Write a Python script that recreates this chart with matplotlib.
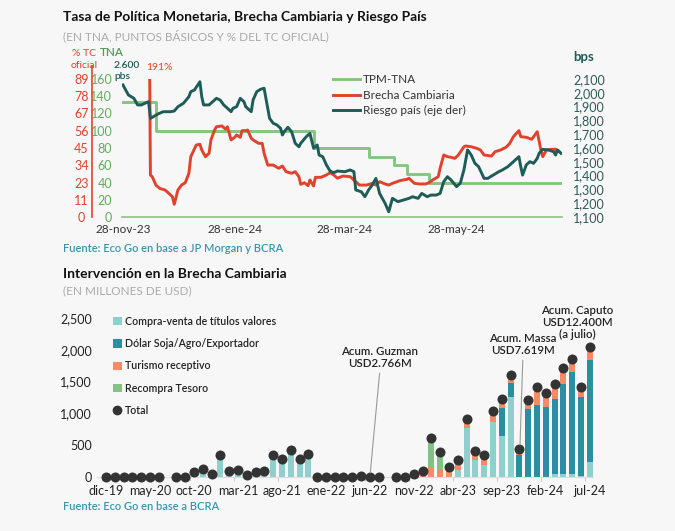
import numpy as np
import pandas as pd
import matplotlib
matplotlib.use("Agg")
from matplotlib import pyplot as plt
from matplotlib.lines import Line2D
from matplotlib.patches import Patch
from matplotlib.ticker import FixedLocator, FixedFormatter, FuncFormatter

plt.rcParams['font.family'] = ['Lato', 'DejaVu Sans']

nan = np.nan

# ---------------- panel 1: TPM, brecha, riesgo pais ----------------
tpm_fechas = ["2023-11-28", "2023-12-16", "2024-03-11", "2024-04-10", "2024-04-24",
              "2024-05-01", "2024-05-13", "2024-07-24"]
tpm_tna = [133, 100, 80, 70, 60, 50, 40, 40]

brecha_fechas = ["2023-12-12", "2023-12-13", "2023-12-14", "2023-12-16", "2023-12-18", "2023-12-21",
                 "2023-12-23", "2023-12-25", "2023-12-26", "2023-12-28", "2023-12-30", "2024-01-01",
                 "2024-01-03", "2024-01-04", "2024-01-07", "2024-01-09", "2024-01-10", "2024-01-12",
                 "2024-01-14", "2024-01-15", "2024-01-17", "2024-01-18", "2024-01-21", "2024-01-23",
                 "2024-01-24", "2024-01-26", "2024-01-28", "2024-01-29", "2024-01-31", "2024-02-01",
                 "2024-02-03", "2024-02-04", "2024-02-06", "2024-02-07", "2024-02-10", "2024-02-12",
                 "2024-02-13", "2024-02-15", "2024-02-18", "2024-02-21", "2024-02-23", "2024-02-25",
                 "2024-02-28", "2024-03-01", "2024-03-03", "2024-03-04", "2024-03-06", "2024-03-08",
                 "2024-03-09", "2024-03-11", "2024-03-12", "2024-03-15", "2024-03-18", "2024-03-20",
                 "2024-03-22", "2024-03-24", "2024-03-27", "2024-03-31", "2024-04-03", "2024-04-05",
                 "2024-04-09", "2024-04-12", "2024-04-14", "2024-04-16", "2024-04-19", "2024-04-21",
                 "2024-04-23", "2024-04-27", "2024-04-29", "2024-05-01", "2024-05-02", "2024-05-05",
                 "2024-05-08", "2024-05-11", "2024-05-13", "2024-05-15", "2024-05-18", "2024-05-19",
                 "2024-05-21", "2024-05-23", "2024-05-25", "2024-05-27", "2024-05-29", "2024-06-01",
                 "2024-06-02", "2024-06-05", "2024-06-08", "2024-06-10", "2024-06-12", "2024-06-16",
                 "2024-06-18", "2024-06-21", "2024-06-24", "2024-06-26", "2024-06-28", "2024-07-01",
                 "2024-07-02", "2024-07-05", "2024-07-08", "2024-07-11", "2024-07-13", "2024-07-14",
                 "2024-07-16", "2024-07-19", "2024-07-21", "2024-07-23"]
brecha_pct = [191, 27.1, 26, 20.6, 18.5, 17.4,
              15.3, 13.1, 8.2, 17.4, 20.6, 22.1,
              28.2, 38.9, 46.4, 46.9, 43.2, 38.9,
              41.1, 49.7, 56.1, 58.2, 58.7, 56.6,
              58.2, 49.7, 51.4, 52.9, 51.4, 55.7,
              55.7, 56.1, 50.8, 49.7, 47.5, 47.5,
              41.1, 33.5, 33.5, 31.4, 32.9, 29.2,
              28.2, 29.2, 26, 21.1, 22.1, 20.2,
              23.9, 20, 25.6, 25.6, 27.1, 28.6,
              27.1, 25, 26.4, 26, 22.8, 20.6,
              20.6, 21.7, 20.6, 22.8, 21.3, 20.6,
              21.7, 23.4, 23.9, 24.3, 25, 21.7,
              21.3, 21.3, 22.1, 23.9, 26, 31.4,
              40, 38.9, 38.5, 37.8, 40, 45.3,
              45.8, 45.3, 44.3, 43.2, 40, 39.3,
              42.1, 43.2, 45, 47.5, 51.8, 55.7,
              51.8, 51.4, 50.1, 55, 43.2, 38.9,
              43.2, 43.7, 43.7, 42.1]

riesgo_fechas = ["2023-11-28", "2023-12-01", "2023-12-04", "2023-12-06", "2023-12-08", "2023-12-10",
                 "2023-12-12", "2023-12-13", "2023-12-14", "2023-12-17", "2023-12-20", "2023-12-24",
                 "2023-12-26", "2023-12-28", "2023-12-31", "2024-01-03", "2024-01-04", "2024-01-06",
                 "2024-01-09", "2024-01-10", "2024-01-11", "2024-01-14", "2024-01-16", "2024-01-18",
                 "2024-01-20", "2024-01-22", "2024-01-24", "2024-01-26", "2024-01-27", "2024-01-29",
                 "2024-01-31", "2024-02-02", "2024-02-03", "2024-02-06", "2024-02-07", "2024-02-09",
                 "2024-02-11", "2024-02-13", "2024-02-14", "2024-02-16", "2024-02-18", "2024-02-20",
                 "2024-02-22", "2024-02-23", "2024-02-24", "2024-02-26", "2024-02-28", "2024-03-01",
                 "2024-03-03", "2024-03-04", "2024-03-07", "2024-03-09", "2024-03-11", "2024-03-13",
                 "2024-03-14", "2024-03-16", "2024-03-18", "2024-03-20", "2024-03-22", "2024-03-24",
                 "2024-03-28", "2024-03-31", "2024-04-02", "2024-04-03", "2024-04-06", "2024-04-08",
                 "2024-04-10", "2024-04-12", "2024-04-14", "2024-04-16", "2024-04-19", "2024-04-21",
                 "2024-04-23", "2024-04-26", "2024-04-29", "2024-05-02", "2024-05-04", "2024-05-07",
                 "2024-05-09", "2024-05-12", "2024-05-14", "2024-05-17", "2024-05-19", "2024-05-21",
                 "2024-05-23", "2024-05-25", "2024-05-28", "2024-05-30", "2024-06-01", "2024-06-03",
                 "2024-06-05", "2024-06-07", "2024-06-09", "2024-06-12", "2024-06-14", "2024-06-17",
                 "2024-06-20", "2024-06-22", "2024-06-25", "2024-06-28", "2024-07-01", "2024-07-02",
                 "2024-07-03", "2024-07-05", "2024-07-07", "2024-07-09", "2024-07-11", "2024-07-12",
                 "2024-07-14", "2024-07-17", "2024-07-20", "2024-07-21", "2024-07-22", "2024-07-24"]
riesgo_bps = [2057, 1984, 1960, 1912, 1912, 1924,
              1936, 1815, 1822, 1846, 1863, 1863,
              1868, 1899, 1924, 1972, 2008, 2020,
              2080, 1972, 1912, 1912, 1936, 1960,
              1948, 1912, 1888, 1863, 1888, 1899,
              1960, 1936, 1899, 1863, 1948, 2008,
              2025, 2033, 1960, 1815, 1779, 1767,
              1743, 1694, 1718, 1750, 1718, 1634,
              1609, 1634, 1682, 1706, 1598, 1622,
              1549, 1537, 1477, 1433, 1421, 1433,
              1428, 1441, 1428, 1296, 1283, 1247,
              1296, 1332, 1380, 1271, 1199, 1138,
              1235, 1211, 1223, 1235, 1247, 1235,
              1271, 1247, 1259, 1259, 1271, 1356,
              1392, 1368, 1320, 1344, 1441, 1586,
              1549, 1489, 1465, 1380, 1380, 1404,
              1428, 1441, 1465, 1501, 1537, 1465,
              1404, 1477, 1501, 1489, 1525, 1561,
              1590, 1586, 1573, 1549, 1586, 1561]

fechas_ticks = ["2023-11-28", "2024-01-28", "2024-03-28", "2024-05-28"]
fechas_labels = ["28-nov-23", "28-ene-24", "28-mar-24", "28-may-24"]
tc_labels = ["0", "11", "23", "34", "45", "56", "67", "78", "89"]

# ---------------- panel 2: intervencion en la brecha ----------------
meses = pd.period_range("2019-12", "2024-07", freq="M")
compra = [0,
          0, 0, 0, 0, 0, 0, nan, 0, 0, 72, 130, 52,
          350, 99, 110, 36, 83, 99, 345, 277, 418, 283, 366, 0,
          0, 0, 0, 0, 20, 0, 0, nan, 0, 0, 0, 0,
          0, 0, 0, 115, 765, 267, 193, 870, 650, 1263, 0, 0,
          0, 0, 42, 42, 40, 10, 231]
soja = [0,
        0, 0, 0, 0, 0, 0, nan, 0, 0, 0, 0, 0,
        0, 0, 0, 0, 0, 0, 0, 0, 0, 0, 0, 0,
        0, 0, 0, 0, 0, 0, 0, nan, 0, 0, 0, 0,
        0, 0, 0, 0, 0, 0, 0, 0, 440, 210, 346, 1069,
        1132, 1105, 1179, 1420, 1615, 1243, 1609]
turismo = [0,
           0, 0, 0, 0, 0, 0, nan, 0, 0, 0, 0, 0,
           0, 0, 0, 0, 0, 0, 0, 0, 0, 0, 0, 0,
           0, 0, 0, 0, 0, 0, 0, nan, 0, 0, 52, 100,
           162, 121, 162, 152, 147, 146, 153, 172, 136, 132, 89, 141,
           278, 211, 236, 246, 194, 167, 199]
recompra = [0,
            0, 0, 0, 0, 0, 0, nan, 0, 0, 0, 0, 0,
            0, 0, 0, 0, 0, 0, 0, 0, 0, 0, 0, 0,
            0, 0, 0, 0, 0, 0, 0, nan, 0, 0, 0, 0,
            456, 277, 0, 0, 0, 0, 0, 0, 0, 0, 0, 0,
            0, 0, 0, 0, 0, 0, 0]
meses_labels = ["dic-19", "may-20", "oct-20", "mar-21", "ago-21", "ene-22",
                "jun-22", "nov-22", "abr-23", "sep-23", "feb-24", "jul-24"]

# colours
c_tpm = "#86c57f"
c_brecha = "#e0432c"
c_riesgo = "#1d5c57"
c_compra = "#8fcfcc"
c_soja = "#2a8fa3"
c_turismo = "#f98a65"
c_recompra = "#82c284"
c_total = "#333333"
c_fuente = "#3597ad"
bg = "#f7f7f7"

W, H = 675, 531
fig = plt.figure(figsize=(W / 100, H / 100), dpi=100, facecolor=bg)


def box(l, t, r, b):
    return [l / W, 1 - b / H, (r - l) / W, (b - t) / H]


def ftext(x, y, s, **kw):
    kw.setdefault("va", "center")
    fig.text(x / W, 1 - y / H, s, **kw)


# ---- top chart
ax = fig.add_axes(box(122, 79, 562, 217))
ax_red = fig.add_axes(box(122, 79, 562, 217), sharex=ax)
ax_r = ax.twinx()
for a in (ax, ax_red, ax_r):
    a.set_facecolor("none")
    for s in a.spines.values():
        s.set_visible(False)

t_tpm = pd.to_datetime(tpm_fechas)
t_brecha = pd.to_datetime(brecha_fechas)
t_riesgo = pd.to_datetime(riesgo_fechas)

l1, = ax.plot(t_tpm, tpm_tna, drawstyle="steps-post", color=c_tpm, lw=2.1)
l2, = ax_red.plot(t_brecha, brecha_pct, color=c_brecha, lw=2.1)
l3, = ax_r.plot(t_riesgo, riesgo_bps, color=c_riesgo, lw=2.1)

ax.set_xlim(pd.Timestamp("2023-11-27 12:00"), pd.Timestamp("2024-07-24 12:00"))
ax.set_ylim(0, 160)
ax.set_yticks(range(0, 161, 20))
ax.tick_params(axis="y", length=0, pad=7, labelsize=9, labelcolor="#5fae5a")
ax.spines["bottom"].set_visible(True)
ax.spines["bottom"].set_color(c_tpm)
ax.spines["bottom"].set_linewidth(1.2)
ax.set_xticks(pd.to_datetime(fechas_ticks))
ax.set_xticklabels(fechas_labels)
ax.tick_params(axis="x", length=0, pad=5, labelsize=8.5, labelcolor="#333333")

ax_red.set_ylim(0, 89)
ax_red.yaxis.set_major_locator(FixedLocator(np.linspace(0, 89, 9)))
ax_red.yaxis.set_major_formatter(FixedFormatter(tc_labels))
ax_red.spines["left"].set_visible(True)
ax_red.spines["left"].set_position(("outward", 21.6))
ax_red.spines["left"].set_color(c_brecha)
ax_red.spines["left"].set_linewidth(1.2)
ax_red.spines["left"].set_bounds(0, 97.5)
ax_red.tick_params(axis="y", length=0, pad=7.5, labelsize=9, labelcolor=c_brecha)
for lab in ax_red.get_yticklabels():
    lab.set_horizontalalignment("center")
ax_red.tick_params(axis="x", bottom=False, labelbottom=False)

ax_r.set_ylim(1100, 2100)
ax_r.set_yticks(range(1100, 2101, 100))
ax_r.yaxis.set_major_formatter(FuncFormatter(lambda v, p: f"{v:,.0f}"))
ax_r.tick_params(axis="y", length=0, pad=8, labelsize=9, labelcolor="#2e5b57")

fig.legend([l1, l2, l3], ["TPM-TNA", "Brecha Cambiaria", "Riesgo país (eje der)"],
           loc="upper left", bbox_to_anchor=(333 / W, 1 - 74 / H), frameon=False,
           fontsize=8.5, handlelength=2.3, handletextpad=0.2, labelspacing=0.4,
           borderpad=0, borderaxespad=0, labelcolor="#333333")

ftext(63, 17, "Tasa de Política Monetaria, Brecha Cambiaria y Riesgo País",
      fontsize=10, fontweight="bold", color="#111111")
ftext(63, 36, "(EN TNA, PUNTOS BÁSICOS Y % DEL TC OFICIAL)", fontsize=8.5, color="#aaaaaa")
ftext(84, 54, "% TC", fontsize=7.5, color=c_brecha, ha="center")
ftext(84, 66, "oficial", fontsize=7.5, color=c_brecha, ha="center")
ftext(100, 53, "TNA", fontsize=8.5, color="#4f9e4f", fontweight="semibold")
ftext(114, 71, "2.600\npbs", fontsize=7.5, color=c_riesgo, fontweight="semibold",
      linespacing=1.3)
ftext(146, 68, "191%", fontsize=7.5, color=c_brecha)
ftext(573, 57, "bps", fontsize=9.5, color=c_riesgo, fontweight="bold")
ftext(63, 248, "Fuente: Eco Go en base a JP Morgan y BCRA", fontsize=8, color=c_fuente,
      fontweight="semibold")

# ---- bottom chart
bx = fig.add_axes(box(97.2, 318, 593.3, 477))
bx.set_facecolor("none")
x = np.arange(len(meses))
capas = [(compra, c_compra, "Compra-venta de títulos valores"),
         (soja, c_soja, "Dólar Soja/Agro/Exportador"),
         (turismo, c_turismo, "Turismo receptivo"),
         (recompra, c_recompra, "Recompra Tesoro")]
base = np.zeros(len(meses))
handles = []
for vals, col, lab in capas:
    v = np.nan_to_num(np.array(vals, dtype=float))
    bx.bar(x, v, bottom=base, width=0.68, color=col, linewidth=0)
    base = base + v
    handles.append(Patch(facecolor=col, label=lab))
total = np.sum([compra, soja, turismo, recompra], axis=0)
bx.scatter(x, total, s=52, color=c_total, zorder=3, clip_on=False, linewidths=0)
handles.append(Line2D([], [], marker="o", ls="", color=c_total, markersize=6, label="Total"))

bx.set_xlim(-1, 55.4)
bx.set_ylim(0, 2500)
bx.set_yticks(range(0, 2501, 500))
bx.yaxis.set_major_formatter(FuncFormatter(lambda v, p: f"{v:,.0f}"))
bx.tick_params(axis="y", length=0, pad=3.6, labelsize=9, labelcolor="#222222")
bx.set_xticks(x[::5])
bx.set_xticklabels(meses_labels)
bx.set_xticks(x[::5] - 0.5, minor=True)
bx.tick_params(axis="x", which="major", length=0, pad=6, labelsize=9, labelcolor="#222222")
bx.tick_params(axis="x", which="minor", length=3, color="#cccccc", width=0.8)
for s in ("top", "right", "left"):
    bx.spines[s].set_visible(False)
bx.spines["bottom"].set_color("#dddddd")

fig.legend(handles=handles, loc="upper left", bbox_to_anchor=(113 / W, 1 - 316 / H),
           frameon=False, handlelength=0.8, handleheight=0.8,
           handletextpad=0.3, labelspacing=1.05, borderpad=0, borderaxespad=0,
           labelcolor="#222222", prop={"size": 7.7, "weight": "semibold"})

anot = dict(ha="center", va="bottom", fontsize=8.3, color="#222222", linespacing=1.15,
            fontweight="semibold")
bx.annotate("Acum. Guzman\nUSD2.766M", xy=(30, 0), xytext=(31.15, 1700),
            arrowprops=dict(arrowstyle="-", color="#999999", lw=0.8, shrinkA=1, shrinkB=3,
                            relpos=(0.5, 0)), **anot)
bx.annotate("Acum. Massa\nUSD7.619M", xy=(47.05, 435), xytext=(47.4, 1900),
            arrowprops=dict(arrowstyle="-", color="#999999", lw=0.8, shrinkA=1, shrinkB=3,
                            relpos=(0.5, 0)), **anot)
bx.annotate("Acum. Caputo\nUSD12.400M\n(a julio)", xy=(53.6, 2150), **anot)

ftext(63, 274, "Intervención en la Brecha Cambiaria", fontsize=10, fontweight="bold",
      color="#111111")
ftext(63, 291, "(EN MILLONES DE USD)", fontsize=8.5, color="#aaaaaa")
ftext(63, 507, "Fuente: Eco Go en base a BCRA", fontsize=8, color=c_fuente, fontweight="semibold")

fig.savefig("out.png", dpi=100, facecolor=bg)
